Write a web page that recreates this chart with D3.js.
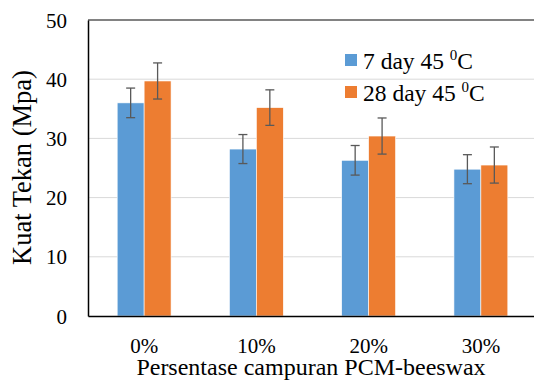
<!DOCTYPE html>
<html>
<head>
<meta charset="utf-8">
<script src="https://cdn.jsdelivr.net/npm/d3@7"></script>
</head>
<body style="margin:0;background:#fff">
<svg id="chart" width="534" height="380" style="display:block"></svg>
<script>
const categories = ["0%", "10%", "20%", "30%"];
const seriesNames = ["7 day 45 ", "28 day 45 "];
const series7 = [36.0, 28.2, 26.3, 24.8];
const series7Err = [2.5, 2.45, 2.5, 2.45];
const series28 = [39.7, 35.2, 30.4, 25.5];
const series28Err = [3.05, 3.0, 3.05, 3.05];
const yTicks = [0, 10, 20, 30, 40, 50];
const colors = ["#5B9BD5", "#ED7D31"];

const FONT = "'Liberation Serif'";
const svg = d3.select("#chart");
const mLeft = 88, mRight = 537, mTop = 20, mBottom = 316;

const x = d3.scaleBand().domain(categories).range([mLeft, mRight]).paddingInner(0.52).paddingOuter(0.26);
const xs = d3.scaleBand().domain([0, 1]).range([0, x.bandwidth()]);
const y = d3.scaleLinear().domain([0, 50]).range([mBottom, mTop]);

// gridlines
svg.append("g").selectAll("line").data(yTicks.filter(d => d > 0 && d < 50)).join("line")
  .attr("x1", mLeft).attr("x2", 534).attr("y1", d => y(d)).attr("y2", d => y(d))
  .attr("stroke", "#D9D9D9").attr("stroke-width", 1);
// top border line
svg.append("line").attr("x1", mLeft).attr("x2", 534).attr("y1", y(50)).attr("y2", y(50))
  .attr("stroke", "#595959").attr("stroke-width", 1.5);

const data = categories.map((c, i) => ({
  c, vals: [{s: 0, v: series7[i], e: series7Err[i]}, {s: 1, v: series28[i], e: series28Err[i]}]
}));

const groups = svg.append("g").selectAll("g").data(data).join("g")
  .attr("transform", d => `translate(${x(d.c)},0)`);

groups.selectAll("rect").data(d => d.vals).join("rect")
  .attr("x", d => xs(d.s)).attr("width", xs.bandwidth())
  .attr("y", d => y(d.v)).attr("height", d => y(0) - y(d.v))
  .attr("fill", d => colors[d.s]).attr("stroke", "#fff").attr("stroke-width", 0.6);

const eb = groups.selectAll("g.err").data(d => d.vals).join("g").attr("class", "err")
  .attr("stroke", "#595959").attr("stroke-width", 1.3);
eb.append("line").attr("x1", d => xs(d.s) + xs.bandwidth() / 2).attr("x2", d => xs(d.s) + xs.bandwidth() / 2)
  .attr("y1", d => y(d.v + d.e)).attr("y2", d => y(d.v - d.e));
eb.append("line").attr("x1", d => xs(d.s) + xs.bandwidth() / 2 - 4.5).attr("x2", d => xs(d.s) + xs.bandwidth() / 2 + 4.5)
  .attr("y1", d => y(d.v + d.e)).attr("y2", d => y(d.v + d.e));
eb.append("line").attr("x1", d => xs(d.s) + xs.bandwidth() / 2 - 4.5).attr("x2", d => xs(d.s) + xs.bandwidth() / 2 + 4.5)
  .attr("y1", d => y(d.v - d.e)).attr("y2", d => y(d.v - d.e));

// y axis
const yAxis = svg.append("g").attr("transform", `translate(${mLeft},0)`)
  .call(d3.axisLeft(y).tickValues(yTicks).tickSize(0).tickPadding(0));
yAxis.select(".domain").attr("stroke", "#000").attr("stroke-width", 1.5);
yAxis.selectAll("text").style("font-family", FONT).style("font-size", "21px")
  .attr("x", -21).attr("dy", "0.34em").attr("fill", "#000");

// x axis
const xAxis = svg.append("g").attr("transform", `translate(0,${mBottom})`)
  .call(d3.axisBottom(x).tickSize(0).tickPadding(0));
xAxis.select(".domain").attr("stroke", "#000").attr("stroke-width", 1.5);
xAxis.selectAll(".tick text").style("font-family", FONT).style("font-size", "21px")
  .attr("y", 37).attr("dy", 0).attr("fill", "#000");

// axis titles
svg.append("text").attr("x", 311).attr("y", 375)
  .attr("text-anchor", "middle").style("font-family", FONT).style("font-size", "24px")
  .text("Persentase campuran PCM-beeswax");
svg.append("text").attr("transform", "translate(31,167.5) rotate(-90)")
  .attr("text-anchor", "middle").style("font-family", FONT).style("font-size", "26.5px")
  .text("Kuat Tekan (Mpa)");

// legend
const lg = svg.append("g").selectAll("g").data(seriesNames).join("g")
  .attr("transform", (d, i) => `translate(345,${54 + i * 32})`);
lg.append("rect").attr("width", 12).attr("height", 12).attr("fill", (d, i) => colors[i]);
const lt = lg.append("text").attr("x", 18).attr("y", 15)
  .style("font-family", FONT).style("font-size", "23.5px");
lt.append("tspan").text(d => d);
lt.append("tspan").style("font-size", "15px").attr("dy", -9).text("0");
lt.append("tspan").attr("dy", 9).text("C");
</script>
</body>
</html>
